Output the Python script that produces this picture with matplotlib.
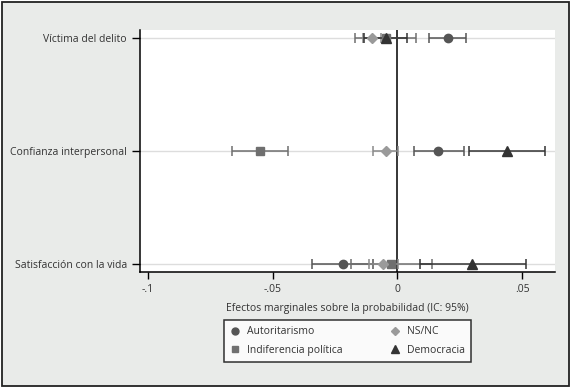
import matplotlib
matplotlib.use("Agg")
import matplotlib.pyplot as plt
from matplotlib.patches import Rectangle
from matplotlib.lines import Line2D

plt.rcParams['font.family'] = ['Open Sans', 'DejaVu Sans']

categorias = ["Víctima del delito", "Confianza interpersonal", "Satisfacción con la vida"]
ypos = [3, 2, 1]

series = ["Autoritarismo", "Indiferencia política", "NS/NC", "Democracia"]

# efecto marginal, limite inferior, limite superior (por categoria)
aut = [0.0203, 0.0163, -0.0219]
aut_lo = [0.0128, 0.0066, -0.0341]
aut_hi = [0.0277, 0.0266, -0.0098]

ind = [-0.0047, -0.0551, -0.0025]
ind_lo = [-0.0170, -0.0664, -0.0187]
ind_hi = [0.0076, -0.0437, 0.0140]

nsnc = [-0.0103, -0.0047, -0.0056]
nsnc_lo = [-0.0139, -0.0099, -0.0113]
nsnc_hi = [-0.0067, 0.0003, 0.0001]

dem = [-0.0047, 0.0441, 0.0301]
dem_lo = [-0.0132, 0.0289, 0.0089]
dem_hi = [0.0040, 0.0593, 0.0515]

xticks = [-0.1, -0.05, 0, 0.05]
xticklabels = ["-.1", "-.05", "0", ".05"]

bg = "#e9ebe9"

fig = plt.figure(figsize=(5.73, 3.91), dpi=100)
fig.patch.set_facecolor("white")
fig.patches.append(Rectangle((2/573, 5/391), 567/573, 384/391, transform=fig.transFigure,
                             facecolor=bg, edgecolor="#222222", linewidth=1.3, zorder=-10))

ax = fig.add_axes([140/573, 1 - 272/391, 415/573, 242/391])
ax.set_facecolor("white")

for y in ypos:
    ax.axhline(y, color="#dddddd", linewidth=1, zorder=0)
ax.axvline(0, color="black", linewidth=1.1, zorder=1)

estilos = [
    (aut, aut_lo, aut_hi, "o", "#555555", "#555555", 6),
    (ind, ind_lo, ind_hi, "s", "#6f6f6f", "#6f6f6f", 6),
    (nsnc, nsnc_lo, nsnc_hi, "D", "#9a9a9a", "#8a8a8a", 5.5),
    (dem, dem_lo, dem_hi, "^", "#333333", "#333333", 6.5),
]
for val, lo, hi, mk, col, lcol, ms in estilos:
    err = [[v - l for v, l in zip(val, lo)], [h - v for v, h in zip(val, hi)]]
    ax.errorbar(val, ypos, xerr=err, fmt=mk, color=col, ecolor=lcol, markersize=ms,
                elinewidth=1.1, capsize=3.5, capthick=1.1, zorder=3)

ax.set_xlim(-0.1032, 0.0632)
ax.set_ylim(1 - 8/113, 3 + 8/113)
ax.set_xticks(xticks)
ax.set_xticklabels(xticklabels)
ax.set_yticks(ypos)
ax.set_yticklabels(categorias)
ax.tick_params(axis="both", labelsize=7.5, length=5, width=1, color="black", labelcolor="#333333")
ax.tick_params(axis="y", pad=4, length=5.5)
for s in ["top", "right"]:
    ax.spines[s].set_visible(False)
for s in ["left", "bottom"]:
    ax.spines[s].set_linewidth(1.1)

ax.set_xlabel("Efectos marginales sobre la probabilidad (IC: 95%)", fontsize=7.5, color="#333333", labelpad=6)

handles = [Line2D([], [], linestyle="none", marker=m, color=c, markersize=s - 1)
           for _, _, _, m, c, _, s in estilos]
leg = fig.legend(handles, series, ncol=2, loc="center", bbox_to_anchor=(347.5/573, 1 - 341/391),
                 fontsize=7.5, frameon=True, fancybox=False, edgecolor="black",
                 handletextpad=0.6, columnspacing=4.6, borderpad=0.6, labelspacing=0.7,
                 handlelength=1.0)
leg.get_frame().set_linewidth(1.1)
for t in leg.get_texts():
    t.set_color("#333333")

fig.savefig("out.png", dpi=100, facecolor=fig.get_facecolor())
